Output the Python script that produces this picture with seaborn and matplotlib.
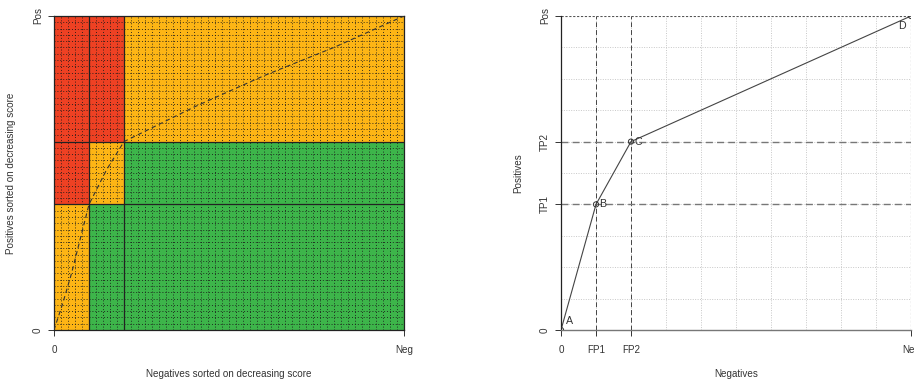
import numpy as np
import pandas as pd
import matplotlib
matplotlib.use("Agg")
import matplotlib.pyplot as plt
from matplotlib.colors import ListedColormap
import seaborn as sns

sns.set_style("white")
plt.rcParams['font.family'] = ['Liberation Sans', 'DejaVu Sans']

# ---- data ----
fp_breaks = [0.1, 0.2]          # FP1, FP2 (fraction of negatives)
tp_breaks = [0.4, 0.6]          # TP1, TP2 (fraction of positives)
n_neg = 50
n_pos = 50
# region classes: 0 = red, 1 = orange, 2 = green (rows: bottom->top, cols: left->right)
region_class = [[1, 2, 2],
                [0, 1, 2],
                [0, 0, 1]]
region_colors = ['#EE4123', '#FDB515', '#3DB54A']
curve_x = [0, 0.025, 0.05, 0.075, 0.1, 0.15, 0.2, 0.3, 0.4, 0.5, 0.6, 0.7, 0.8, 0.9, 1.0]
curve_y = [0, 0.085, 0.18, 0.29, 0.40, 0.51, 0.60, 0.655, 0.71, 0.76, 0.81, 0.855, 0.90, 0.95, 1.0]
roc_x = [0, 0.1, 0.2, 1.0]
roc_y = [0, 0.4, 0.6, 1.0]
roc_labels = ['A', 'B', 'C', 'D']
left_xticks = ['0', 'Neg']
left_yticks = ['0', 'Pos']
right_xticks = ['0', 'FP1', 'FP2', 'Neg']
right_yticks = ['0', 'TP1', 'TP2', 'Pos']

fig = plt.figure(figsize=(9.14, 3.8), dpi=100)
axL = fig.add_axes([54/914, 50/380, 350/914, 314/380])
axR = fig.add_axes([561/914, 50/380, 350/914, 314/380])

fs = 7.1
tcol = '#333333'
# ---------- left panel ----------
xe = [0] + fp_breaks + [1]
ye = [0] + tp_breaks + [1]
axL.pcolormesh(xe, ye, np.array(region_class), cmap=ListedColormap(region_colors),
               vmin=-0.5, vmax=2.5, zorder=0)
for gx in np.arange(1, n_neg) / n_neg:
    axL.axvline(gx, color='#1a1a1a', lw=0.7, ls=(0, (1, 2.0)), alpha=0.85, zorder=1)
for gy in np.arange(1, n_pos) / n_pos:
    axL.axhline(gy, color='#1a1a1a', lw=0.7, ls=(0, (1, 2.0)), alpha=0.85, zorder=1)
for v in fp_breaks:
    axL.axvline(v, color='#222222', lw=0.9, zorder=2)
for h in tp_breaks:
    axL.axhline(h, color='#222222', lw=0.9, zorder=2)
dfc = pd.DataFrame({'x': curve_x, 'y': curve_y})
sns.lineplot(data=dfc, x='x', y='y', ax=axL, color='#333333', lw=0.8,
             linestyle=(0, (4, 3)), sort=False, zorder=3)
axL.set_xlim(0, 1)
axL.set_ylim(0, 1)
axL.set_xticks([0, 1])
axL.set_xticklabels(left_xticks, fontsize=fs, color=tcol)
axL.set_yticks([0, 1])
axL.set_yticklabels(left_yticks, fontsize=fs, rotation=90, va='center', color=tcol)
axL.tick_params(axis='x', length=4, width=0.7, color='#333333', pad=7, bottom=True)
axL.tick_params(axis='y', length=4, width=0.7, color='#333333', pad=4, left=True)
for s in axL.spines.values():
    s.set_color('#222222')
    s.set_linewidth(0.9)
axL.set_xlabel('Negatives sorted on decreasing score', fontsize=fs, labelpad=10, color=tcol)
axL.set_ylabel('Positives sorted on decreasing score', fontsize=fs, labelpad=12, color=tcol)

# ---------- right panel ----------
for g in np.arange(1, 10) / 10:
    axR.axvline(g, color='#c8c8c8', lw=0.7, ls=(0, (1, 1.5)), zorder=0)
    axR.axhline(g, color='#c8c8c8', lw=0.7, ls=(0, (1, 1.5)), zorder=0)
for v in fp_breaks:
    axR.axvline(v, color='#444444', lw=0.7, ls=(0, (5, 3)), zorder=1)
for h in tp_breaks:
    axR.axhline(h, color='#777777', lw=1.0, ls=(0, (5, 3)), zorder=1)
axR.axhline(1.0, color='#555555', lw=0.8, ls=(0, (2, 1.5)), zorder=1)
axR.axvline(1.0, color='#555555', lw=0.8, ls=(0, (2, 1.5)), zorder=1)
dfr = pd.DataFrame({'x': roc_x, 'y': roc_y})
sns.lineplot(data=dfr, x='x', y='y', ax=axR, color='#444444', lw=0.8, sort=False, zorder=2)
axR.scatter(roc_x, roc_y, s=14, facecolors='none', edgecolors='#333333', linewidths=0.7, zorder=3)
offs = {'A': (0.015, 0.012, 'left', 'bottom'), 'B': (0.01, 0.0, 'left', 'center'),
        'C': (0.01, 0.0, 'left', 'center'), 'D': (-0.015, -0.015, 'right', 'top')}
for x, y, lab in zip(roc_x, roc_y, roc_labels):
    dx, dy, ha, va = offs[lab]
    axR.text(x + dx, y + dy, lab, fontsize=fs + 0.6, ha=ha, va=va, color='#333333', zorder=4)
axR.set_xlim(0, 1)
axR.set_ylim(0, 1)
axR.set_xticks([0] + fp_breaks + [1])
axR.set_xticklabels(right_xticks, fontsize=fs, color=tcol)
axR.set_yticks([0] + tp_breaks + [1])
axR.set_yticklabels(right_yticks, fontsize=fs, rotation=90, va='center', color=tcol)
axR.tick_params(axis='x', length=4, width=0.7, color='#333333', pad=7, bottom=True)
axR.tick_params(axis='y', length=4, width=0.7, color='#333333', pad=4, left=True)
for side in ['top', 'right']:
    axR.spines[side].set_visible(False)
axR.spines['left'].set_color('#222222')
axR.spines['left'].set_linewidth(0.9)
axR.spines['bottom'].set_color('#777777')
axR.spines['bottom'].set_linewidth(1.0)
axR.set_xlabel('Negatives', fontsize=fs, labelpad=10, color=tcol)
axR.set_ylabel('Positives', fontsize=fs, labelpad=12, color=tcol)

fig.savefig('out.png', dpi=100)
